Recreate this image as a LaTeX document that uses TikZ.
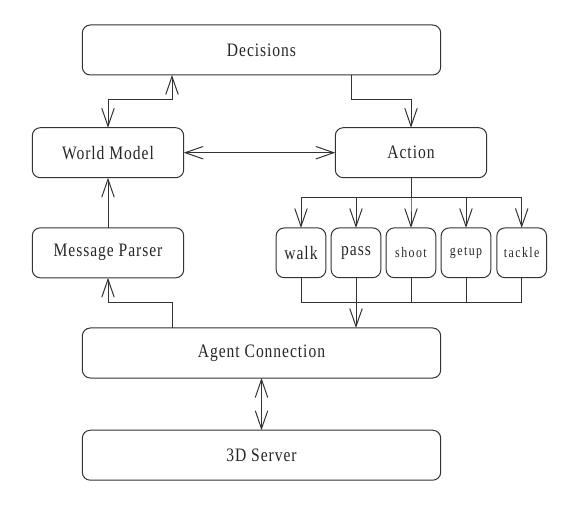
\documentclass[tikz,border=0pt]{standalone}
\usepackage{fontspec}
\usetikzlibrary{arrows.meta}
\newfontfamily\boxfont{Liberation Serif}[FakeStretch=0.82,LetterSpace=5]
\newfontfamily\smallfont{Liberation Serif}[FakeStretch=0.82,LetterSpace=10]

\begin{document}
\begin{tikzpicture}[x=1pt,y=1pt, line width=1pt, draw=black!80,
  >={Straight Barb[length=18pt,width=12.5pt]},
  every node/.style={draw=black!80, line width=1pt, rounded corners=8pt, minimum height=50pt, inner sep=0pt, outer sep=0pt, text=black!85},
  box/.style={minimum width=151.4pt, font=\boxfont\fontsize{19}{19}\selectfont},
  widebox/.style={minimum width=358.4pt, font=\boxfont\fontsize{19}{19}\selectfont},
  move/.style={minimum width=49.7pt, minimum height=49.7pt, font=\boxfont\fontsize{19}{19}\selectfont},
  smallmove/.style={move, font=\smallfont\fontsize{14.5}{14.5}\selectfont}]
\useasboundingbox (0,0) rectangle (576,504);

\node[widebox] (dec) at (261.5,454) {Decisions};
\node[box] (wm) at (108,351.3) {World Model};
\node[box] (act) at (411,351.3) {Action};
\node[box] (mp) at (108,251.2) {Message Parser};

\node[move] (walk) at (301,251.2) {walk};
\node[move] (pass) at (356,251.2) {pass};
\node[smallmove] (shoot) at (411,251.2) {shoot};
\node[smallmove] (getup) at (466,251.2) {getup};
\node[smallmove] (tackle) at (521.7,251.2) {tackle};

\node[widebox] (ac) at (261.5,151) {Agent Connection};
\node[widebox] (srv) at (261.5,48.8) {3D Server};

\draw[<->] ([xshift=-89.5pt]dec.south) -- ++(0,-24.3) -| (wm.north);
\draw[->] ([xshift=89.5pt]dec.south) -- ++(0,-24.3) -| (act.north);
\draw[<->] (wm.east) -- (act.west);
\draw[->] (mp.north) -- (wm.south);

\foreach \m in {walk,pass,shoot,getup,tackle}
  \draw[->] (act.south) -- ++(0,-20) -| (\m.north);

\coordinate (merge) at (356,201.3);
\foreach \m in {walk,shoot,getup,tackle}
  \draw (\m.south) |- (merge);
\draw[->] (pass.south) -- (pass.south |- ac.north);

\draw[->] ([xshift=-89.5pt]ac.north) -- ++(0,25.3) -| (mp.south);
\draw[<->] (ac.south) -- (srv.north);
\end{tikzpicture}
\end{document}
